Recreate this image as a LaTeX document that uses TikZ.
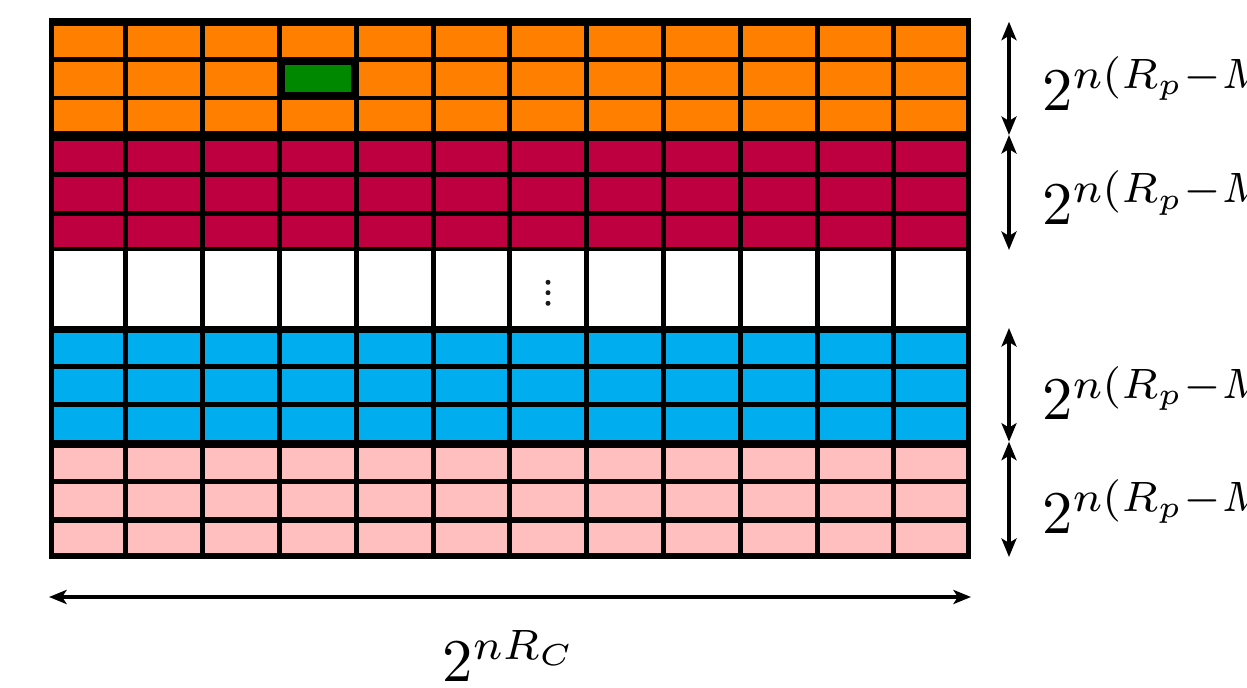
\documentclass[tikz,border=0pt]{standalone}
\usetikzlibrary{arrows.meta}
\definecolor{cOrange}{RGB}{255,128,0}
\definecolor{cCrimson}{RGB}{191,0,64}
\definecolor{cBlue}{RGB}{0,174,239}
\definecolor{cPink}{RGB}{255,191,191}
\definecolor{cGreen}{RGB}{0,136,0}
\begin{document}
\begin{tikzpicture}[x=0.02cm,y=-0.02cm,
  lbl/.style={inner sep=0pt, scale=3.45},
  varr/.style={line width=2.8pt,{Stealth[length=10.5pt,width=8.5pt,inset=2.5pt]}-{Stealth[length=10.5pt,width=8.5pt,inset=2.5pt]}},
  harr/.style={line width=2.1pt,{Stealth[length=10pt,width=8pt,inset=2.5pt]}-{Stealth[length=10pt,width=8pt,inset=2.5pt]}}]
\useasboundingbox (0,0) rectangle (1247,688);
\clip (0,0) rectangle (1247,688);
% black frame / grid background
\fill[black] (49,18.3) rectangle (971,559);
% cells
\foreach \ya/\yb/\c in {25.7/56.7/cOrange, 61.7/95.7/cOrange, 100/130.7/cOrange,
  140.7/172.3/cCrimson, 176.7/210.7/cCrimson, 215.7/246.7/cCrimson,
  251/325.7/white,
  333.3/364.3/cBlue, 369/402.3/cBlue, 407.3/440/cBlue,
  448.3/479.3/cPink, 484.3/517.3/cPink, 522.7/553.3/cPink}{
  \foreach \l/\r in {54/123.3, 128.3/200.1, 205.1/276.9, 281.9/353.7, 358.7/430.5,
    435.5/507.3, 512.3/584.1, 589.1/660.9, 665.9/737.7, 742.7/814.5, 819.5/891.3, 896.3/966}{
    \fill[\c] (\l,\ya) rectangle (\r,\yb);
  }
}
% highlighted cell
\fill[black] (281.9,61.7) rectangle (353.7,95.7);
\fill[cGreen] (285,65) rectangle (351,92.3);
% vertical dots
\foreach \yy in {282.3,292.7,303.3}{\fill[black!90] (548,\yy) circle (2.5);}
% arrows
\coordinate (a0) at (1009,21.7);
\coordinate (a1) at (1009,135);
\coordinate (a2) at (1009,250);
\coordinate (a3) at (1009,328);
\coordinate (a4) at (1009,441.7);
\coordinate (a5) at (1009,557);
\draw[varr] (a0) -- (a1);
\draw[varr] (a1) -- (a2);
\draw[varr] (a3) -- (a4);
\draw[varr] (a4) -- (a5);
\coordinate (h0) at (49,597);
\coordinate (h1) at (971,597);
\draw[harr] (h0) -- (h1);
% labels
\node[lbl, anchor=base west] (l1) at (1041,110.7) {$2^{n(R_p-M)}$};
\node[lbl, anchor=base west] (l2) at (1041,225) {$2^{n(R_p-M)}$};
\node[lbl, anchor=base west] (l3) at (1041,420) {$2^{n(R_p-M)}$};
\node[lbl, anchor=base west] (l4) at (1041,533.3) {$2^{n(R_p-M)}$};
\node[lbl, anchor=base] (lc) at (510,681.7) {$2^{nR_C}$};
\end{tikzpicture}
\end{document}
